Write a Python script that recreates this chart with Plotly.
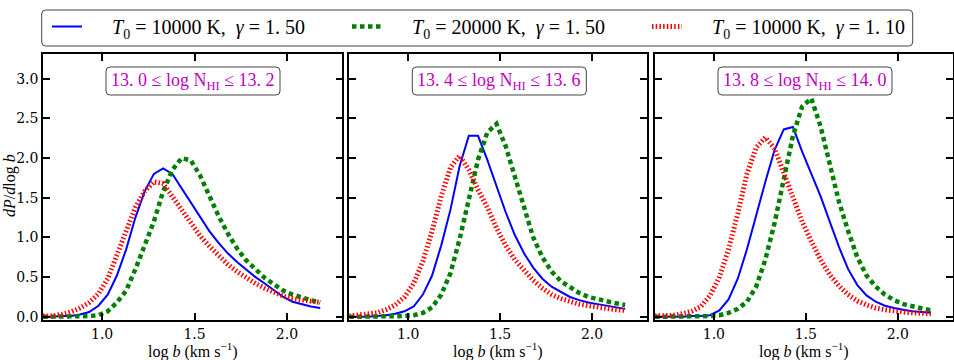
import plotly.graph_objects as go

# log b grid (km/s)
log_b = [0.68, 0.73, 0.78, 0.83, 0.88, 0.93, 0.98, 1.03, 1.08, 1.13, 1.18,
         1.23, 1.28, 1.33, 1.38, 1.43, 1.48, 1.53, 1.58, 1.63, 1.68, 1.73,
         1.78, 1.83, 1.88, 1.93, 1.98, 2.03, 2.08, 2.13, 2.18]

panel_labels = [
    "13. 0 ≤ log N<sub>HI</sub> ≤ 13. 2",
    "13. 4 ≤ log N<sub>HI</sub> ≤ 13. 6",
    "13. 8 ≤ log N<sub>HI</sub> ≤ 14. 0",
]

PAD = "\u00a0" * 5
series_names = [
    PAD + "<i>T</i><sub>0</sub> = 10000 K,  <i>γ</i> = 1. 50",
    PAD + "<i>T</i><sub>0</sub> = 20000 K,  <i>γ</i> = 1. 50",
    PAD + "<i>T</i><sub>0</sub> = 10000 K,  <i>γ</i> = 1. 10",
]

# dP/dlog b, panel 1 (13.0-13.2)
p1_t10k_g150 = [0.00, 0.00, 0.01, 0.01, 0.03, 0.06, 0.14, 0.28, 0.52, 0.85, 1.25,
                1.58, 1.80, 1.87, 1.80, 1.62, 1.43, 1.25, 1.08, 0.93, 0.80, 0.69,
                0.59, 0.50, 0.42, 0.34, 0.25, 0.19, 0.16, 0.13, 0.11]
p1_t20k_g150 = [0.00, 0.00, 0.00, 0.00, 0.01, 0.01, 0.02, 0.07, 0.18, 0.33, 0.60,
                0.90, 1.20, 1.58, 1.85, 2.00, 1.97, 1.78, 1.52, 1.27, 1.05, 0.86,
                0.71, 0.59, 0.49, 0.41, 0.33, 0.28, 0.24, 0.21, 0.18]
p1_t10k_g110 = [0.01, 0.01, 0.03, 0.06, 0.11, 0.18, 0.29, 0.48, 0.78, 1.08, 1.38,
                1.58, 1.70, 1.68, 1.52, 1.36, 1.18, 1.02, 0.89, 0.77, 0.66, 0.57,
                0.49, 0.42, 0.36, 0.31, 0.26, 0.23, 0.21, 0.19, 0.18]

# panel 2 (13.4-13.6)
p2_t10k_g150 = [0.00, 0.00, 0.00, 0.01, 0.02, 0.04, 0.07, 0.13, 0.28, 0.52, 0.90,
                1.35, 1.90, 2.28, 2.28, 1.98, 1.65, 1.32, 1.03, 0.80, 0.62, 0.48,
                0.38, 0.31, 0.25, 0.21, 0.18, 0.16, 0.14, 0.12, 0.10]
p2_t20k_g150 = [0.00, 0.00, 0.00, 0.00, 0.00, 0.00, 0.01, 0.02, 0.05, 0.12, 0.28,
                0.55, 0.98, 1.48, 1.98, 2.32, 2.43, 2.15, 1.75, 1.35, 1.00, 0.75,
                0.57, 0.45, 0.37, 0.30, 0.25, 0.22, 0.19, 0.17, 0.15]
p2_t10k_g110 = [0.01, 0.02, 0.03, 0.05, 0.09, 0.15, 0.25, 0.42, 0.70, 1.08, 1.52,
                1.88, 2.03, 1.85, 1.60, 1.38, 1.12, 0.90, 0.72, 0.58, 0.46, 0.36,
                0.28, 0.23, 0.19, 0.16, 0.14, 0.12, 0.11, 0.09, 0.08]

# panel 3 (13.8-14.0)
p3_t10k_g150 = [0.00, 0.00, 0.00, 0.00, 0.01, 0.01, 0.02, 0.08, 0.22, 0.48, 0.85,
                1.28, 1.70, 2.10, 2.36, 2.39, 2.08, 1.80, 1.52, 1.20, 0.88, 0.60,
                0.40, 0.27, 0.19, 0.14, 0.11, 0.09, 0.07, 0.06, 0.05]
p3_t20k_g150 = [0.00, 0.00, 0.00, 0.00, 0.00, 0.00, 0.01, 0.02, 0.05, 0.10, 0.19,
                0.38, 0.72, 1.18, 1.72, 2.28, 2.65, 2.75, 2.40, 1.90, 1.45, 1.08,
                0.75, 0.52, 0.38, 0.28, 0.21, 0.16, 0.13, 0.10, 0.08]
p3_t10k_g110 = [0.01, 0.01, 0.02, 0.04, 0.07, 0.13, 0.27, 0.50, 0.85, 1.30, 1.80,
                2.13, 2.26, 2.12, 1.82, 1.52, 1.20, 0.95, 0.72, 0.53, 0.39, 0.28,
                0.20, 0.15, 0.11, 0.09, 0.07, 0.06, 0.05, 0.04, 0.04]

panels = [
    [p1_t10k_g150, p1_t20k_g150, p1_t10k_g110],
    [p2_t10k_g150, p2_t20k_g150, p2_t10k_g110],
    [p3_t10k_g150, p3_t20k_g150, p3_t10k_g110],
]

x_ticks = [1.0, 1.5, 2.0]
y_ticks = [0.0, 0.5, 1.0, 1.5, 2.0, 2.5, 3.0]

# styling
W, H = 954, 360
ML, MR, MT, MB = 43, 1, 54, 40
PW, PH = W - ML - MR, H - MT - MB
line_styles = [
    dict(color="#0000ff", width=2),
    dict(color="#008000", width=4.5, dash="4.5px,3.5px"),
    dict(color="#ff0000", width=5, dash="1.5px,2.2px"),
]
domains = [[0.0, 0.329], [0.3366, 0.664], [0.6725, 1.0]]
MATH_FONT = "Liberation Serif"
TICK_FONT = "DejaVu Serif"


def px_x(px):
    return (px - ML) / PW


def px_y(py):
    return (H - MB - py) / PH


def rounded_box(x0, x1, y0, y1, r=4):
    # box given in pixels, drawn in paper coords
    rx, ry = r / PW, r / PH
    a0, a1, b0, b1 = px_x(x0), px_x(x1), px_y(y1), px_y(y0)
    path = (f"M {a0+rx},{b0} L {a1-rx},{b0} Q {a1},{b0} {a1},{b0+ry} "
            f"L {a1},{b1-ry} Q {a1},{b1} {a1-rx},{b1} L {a0+rx},{b1} "
            f"Q {a0},{b1} {a0},{b1-ry} L {a0},{b0+ry} Q {a0},{b0} {a0+rx},{b0} Z")
    return dict(type="path", path=path, xref="paper", yref="paper",
                line=dict(color="#444444", width=1), fillcolor="white", layer="below")


fig = go.Figure()
for i, curves in enumerate(panels):
    suffix = "" if i == 0 else str(i + 1)
    for j, ys in enumerate(curves):
        fig.add_trace(go.Scatter(
            x=log_b, y=ys, mode="lines", name=series_names[j],
            line=line_styles[j], showlegend=(i == 0),
            xaxis="x" + suffix, yaxis="y" + suffix))

layout = dict(
    width=W, height=H,
    margin=dict(l=ML, r=MR, t=MT, b=MB, autoexpand=False),
    plot_bgcolor="white", paper_bgcolor="white",
    font=dict(family=TICK_FONT, size=14, color="black"),
    showlegend=True,
    legend=dict(orientation="h", x=px_x(47), y=px_y(7), xanchor="left", yanchor="top",
                bgcolor="rgba(0,0,0,0)", borderwidth=0,
                entrywidth=255, entrywidthmode="pixels",
                font=dict(family=MATH_FONT, size=20)),
)
annotations = []
shapes = [rounded_box(41.7, 912.7, 10, 46, r=4)]
for i in range(3):
    suffix = "" if i == 0 else str(i + 1)
    layout["xaxis" + suffix] = dict(
        domain=domains[i], range=[0.68, 2.30], anchor="y" + suffix,
        tickvals=x_ticks, ticktext=[f"{v:.1f}" for v in x_ticks],
        ticks="inside", ticklen=7, tickwidth=1.5, tickcolor="black",
        showline=True, linecolor="black", linewidth=1.5, mirror="ticks",
        showgrid=False, zeroline=False, ticklabelstandoff=0)
    layout["yaxis" + suffix] = dict(
        domain=[0, 1], range=[-0.04, 3.31], anchor="x" + suffix,
        tickvals=y_ticks, ticktext=[f"{v:.1f}" for v in y_ticks],
        showticklabels=(i == 0),
        ticks="inside", ticklen=7, tickwidth=1.5, tickcolor="black",
        showline=True, linecolor="black", linewidth=1.5, mirror="ticks",
        showgrid=False, zeroline=False)
    d0, d1 = domains[i]
    left_px = ML + d0 * PW
    shapes.append(rounded_box(left_px + 63, left_px + 237, 67, 95, r=4))
    annotations.append(dict(
        text=panel_labels[i], xref="paper", yref="paper",
        x=px_x(left_px + 150), y=px_y(81), xanchor="center", yanchor="middle",
        showarrow=False, font=dict(family=MATH_FONT, size=18, color="#bf00bf")))
    annotations.append(dict(
        text="log <i>b</i> (km s<sup>−1</sup>)", xref="paper", yref="paper",
        x=(d0 + d1) / 2, y=px_y(350), xanchor="center", yanchor="middle",
        showarrow=False, font=dict(family=MATH_FONT, size=16)))

annotations.append(dict(
    text="<i>dP</i>/<i>d</i>log <i>b</i>", xref="paper", yref="paper",
    x=px_x(10), y=px_y(186), xanchor="center", yanchor="middle", textangle=-90,
    showarrow=False, font=dict(family=MATH_FONT, size=16)))

layout["annotations"] = annotations
layout["shapes"] = shapes
fig.update_layout(**layout)

# drop the default 8px page margin so the figure sits at the window origin
fig.write_html("out.html", config={"displayModeBar": False},
               post_script="document.body.style.margin='0';")
